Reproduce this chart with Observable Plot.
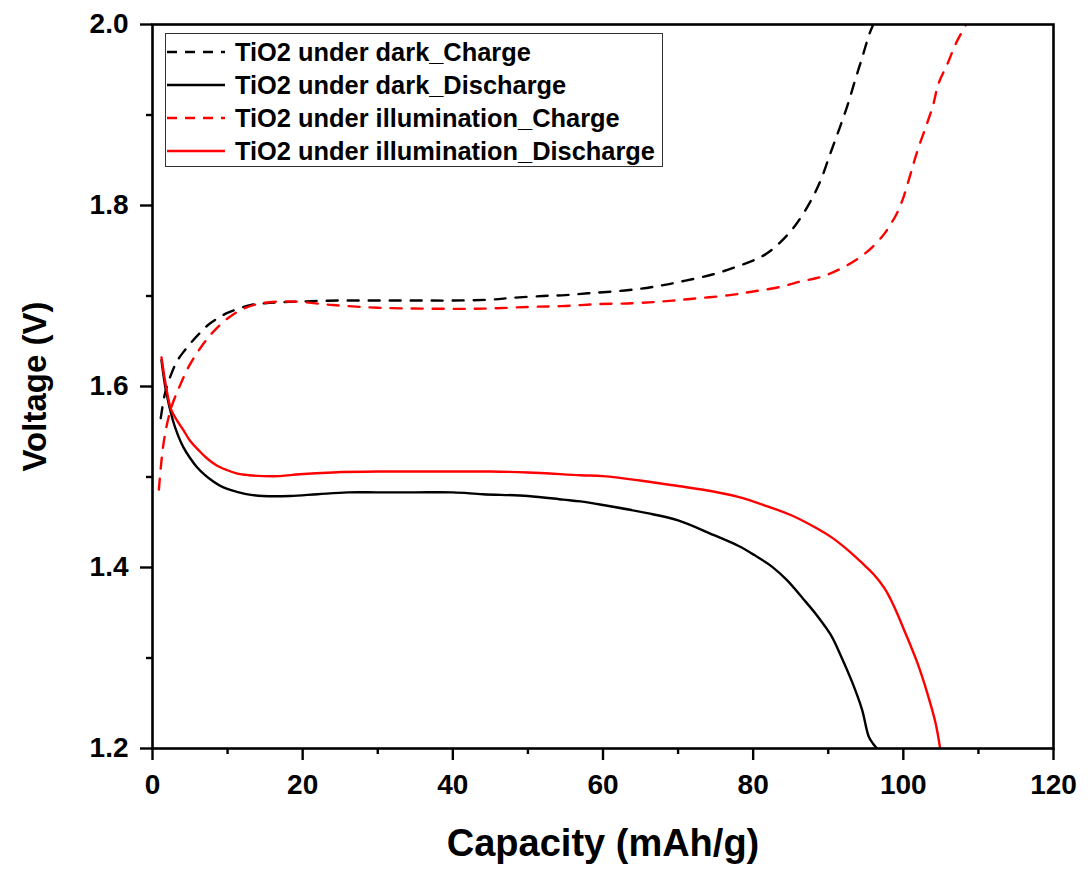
<!DOCTYPE html>
<html>
<head>
<meta charset="utf-8">
<script src="https://cdn.jsdelivr.net/npm/d3@7"></script>
<script src="https://cdn.jsdelivr.net/npm/@observablehq/plot@0.6"></script>
<style>
  html, body { margin: 0; padding: 0; background: #fff; }
  #wrap { position: relative; width: 1088px; height: 871px; font-family: "Liberation Sans", Arial, sans-serif; }
  #legend { position: absolute; left: 165px; top: 33px; width: 498px; height: 134px; border: 1.5px solid #333; background: #fff; box-sizing: border-box; }
  .row { position: absolute; left: 0; height: 30px; display: flex; align-items: center; font-weight: bold; font-size: 25.4px; color: #000; white-space: nowrap; }
  .row svg { margin-left: 1px; margin-right: 10px; }
</style>
</head>
<body>
<div id="wrap"></div>
<script>
// Series names
const seriesNames = [
  "TiO2 under dark_Charge",
  "TiO2 under dark_Discharge",
  "TiO2 under illumination_Charge",
  "TiO2 under illumination_Discharge"
];
const seriesColors = ["#000000", "#000000", "#ff0000", "#ff0000"];
const seriesDashed = [true, false, true, false];

// TiO2 under dark – Charge
const darkChargeCap = [1.1, 1.6, 2.2, 3.2, 4.2, 5.2, 6.3, 7.4, 8.6, 9.9, 11.5, 13, 15, 17, 20, 25, 30, 35, 40, 45, 48, 52, 55, 58, 61.4, 65, 68, 71, 74.7, 78, 80.5, 82, 83.7, 85.7, 87.6, 89, 90.3, 91.4, 92.5, 93.6, 94.5, 95.5, 96];
const darkChargeV   = [1.565, 1.59, 1.607, 1.627, 1.639, 1.649, 1.659, 1.668, 1.675, 1.681, 1.686, 1.690, 1.692, 1.693, 1.694, 1.695, 1.695, 1.695, 1.695, 1.696, 1.698, 1.700, 1.701, 1.703, 1.705, 1.708, 1.712, 1.717, 1.724, 1.733, 1.741, 1.748, 1.760, 1.779, 1.804, 1.828, 1.858, 1.883, 1.909, 1.939, 1.963, 1.990, 2.0];

// TiO2 under dark – Discharge
const darkDischargeCap = [1.2, 1.8, 2.7, 3.4, 4.1, 5, 5.9, 7, 8.1, 9.3, 10.7, 12.5, 14.7, 18.3, 22, 26, 30, 35, 40, 44, 50, 54.7, 57, 60, 65.9, 70, 74.7, 78, 80.1, 82.5, 84.5, 86.7, 88.5, 90.3, 91.6, 93.2, 94.5, 95.4, 96.0, 96.5];
const darkDischargeV   = [1.629, 1.595, 1.563, 1.546, 1.533, 1.521, 1.511, 1.502, 1.495, 1.489, 1.485, 1.481, 1.479, 1.479, 1.481, 1.483, 1.483, 1.483, 1.483, 1.481, 1.479, 1.475, 1.473, 1.469, 1.460, 1.452, 1.436, 1.424, 1.414, 1.401, 1.386, 1.365, 1.347, 1.326, 1.304, 1.273, 1.243, 1.213, 1.205, 1.200];

// TiO2 under illumination – Charge
const illumChargeCap = [0.85, 1.1, 1.4, 1.8, 2.3, 2.8, 3.4, 4.7, 6.5, 8.5, 11, 13.9, 18.3, 24, 30, 37, 44, 50.3, 55, 59.2, 64, 68, 72, 76.9, 80, 83.6, 86.3, 89, 92.1, 95.2, 97.4, 98.2, 99, 99.6, 100.1, 101, 101.9, 103, 103.9, 104.7, 105.9, 107, 108.3];
const illumChargeV   = [1.486, 1.51, 1.533, 1.553, 1.571, 1.584, 1.596, 1.620, 1.644, 1.664, 1.681, 1.691, 1.694, 1.690, 1.687, 1.686, 1.686, 1.688, 1.689, 1.691, 1.692, 1.694, 1.697, 1.701, 1.705, 1.710, 1.716, 1.721, 1.732, 1.749, 1.768, 1.778, 1.789, 1.800, 1.811, 1.836, 1.861, 1.887, 1.909, 1.935, 1.957, 1.979, 1.999];

// TiO2 under illumination – Discharge
const illumDischargeCap = [1.2, 1.8, 2.5, 3.3, 4.1, 5, 6.1, 7.2, 8.5, 9.8, 11.2, 12.8, 14.7, 17, 19.6, 24, 30, 35, 40, 45, 50, 57, 60, 65.9, 70, 74.7, 78, 81.4, 85, 88.1, 90.5, 92.5, 94.5, 96.1, 97.5, 98.3, 99.2, 100.1, 101, 101.9, 103.2, 104.3, 104.9];
const illumDischargeV   = [1.632, 1.60, 1.574, 1.562, 1.552, 1.540, 1.530, 1.521, 1.513, 1.508, 1.504, 1.502, 1.501, 1.501, 1.503, 1.505, 1.506, 1.506, 1.506, 1.506, 1.505, 1.502, 1.501, 1.495, 1.490, 1.484, 1.478, 1.469, 1.458, 1.445, 1.433, 1.420, 1.405, 1.392, 1.377, 1.365, 1.349, 1.331, 1.313, 1.294, 1.261, 1.228, 1.200];

// Axis ticks
const xMajorTicks = [0, 20, 40, 60, 80, 100, 120];
const xMinorTicks = [10, 30, 50, 70, 90, 110];
const yMajorTicks = [1.2, 1.4, 1.6, 1.8, 2.0];
const yMinorTicks = [1.3, 1.5, 1.7, 1.9];
const xTitle = "Capacity (mAh/g)";
const yTitle = "Voltage (V)";

const caps = [darkChargeCap, darkDischargeCap, illumChargeCap, illumDischargeCap];
const volts = [darkChargeV, darkDischargeV, illumChargeV, illumDischargeV];
const series = caps.map((c, i) => c.map((x, j) => ({x, y: volts[i][j]})));

const lineMarks = series.map((data, i) => Plot.line(data, {
  x: "x", y: "y",
  stroke: seriesColors[i],
  strokeWidth: 2.4,
  strokeDasharray: seriesDashed[i] ? "11,10" : null,
  curve: "catmull-rom",
  clip: true
}));

const chart = Plot.plot({
  width: 1088,
  height: 871,
  marginLeft: 152,
  marginRight: 35,
  marginTop: 24,
  marginBottom: 123,
  x: {domain: [0, 120]},
  y: {domain: [1.2, 2.0]},
  style: {fontFamily: "'Liberation Sans', Arial, sans-serif", fontWeight: "bold", color: "#000", background: "#fff"},
  marks: [
    ...lineMarks,
    Plot.axisX({ticks: xMinorTicks, tickSize: 6, tickFormat: () => "", label: null, strokeWidth: 2.4}),
    Plot.axisX({ticks: xMajorTicks, tickSize: 12, tickPadding: 14, tickFormat: d3.format("d"), fontSize: 28, label: null, strokeWidth: 2.4}),
    Plot.axisY({ticks: yMinorTicks, tickSize: 6, tickFormat: () => "", label: null, strokeWidth: 2.4}),
    Plot.axisY({ticks: yMajorTicks, tickSize: 12, tickPadding: 12, tickFormat: d3.format(".1f"), fontSize: 28, label: null, strokeWidth: 2.4}),
    Plot.frame({stroke: "#000", strokeWidth: 2.6}),
    Plot.text([xTitle], {frameAnchor: "bottom", dy: 107, fontSize: 38, fontWeight: "bold", textAnchor: "middle", text: d => d}),
    Plot.text([yTitle], {frameAnchor: "left", dx: -117, rotate: -90, fontSize: 33, fontWeight: "bold", textAnchor: "middle", text: d => d})
  ]
});

const wrap = document.getElementById("wrap");
wrap.appendChild(chart);

// Legend (HTML overlay)
const legend = document.createElement("div");
legend.id = "legend";
const rowTops = [3, 36, 69, 102];
seriesNames.forEach((name, i) => {
  const row = document.createElement("div");
  row.className = "row";
  row.style.top = rowTops[i] + "px";
  const ns = "http://www.w3.org/2000/svg";
  const s = document.createElementNS(ns, "svg");
  s.setAttribute("width", 58);
  s.setAttribute("height", 10);
  const l = document.createElementNS(ns, "line");
  l.setAttribute("x1", 0); l.setAttribute("x2", 58);
  l.setAttribute("y1", 5); l.setAttribute("y2", 5);
  l.setAttribute("stroke", seriesColors[i]);
  l.setAttribute("stroke-width", 2.4);
  if (seriesDashed[i]) l.setAttribute("stroke-dasharray", "10,8");
  s.appendChild(l);
  row.appendChild(s);
  const t = document.createElement("span");
  t.textContent = name;
  row.appendChild(t);
  legend.appendChild(row);
});
wrap.appendChild(legend);
</script>
</body>
</html>
